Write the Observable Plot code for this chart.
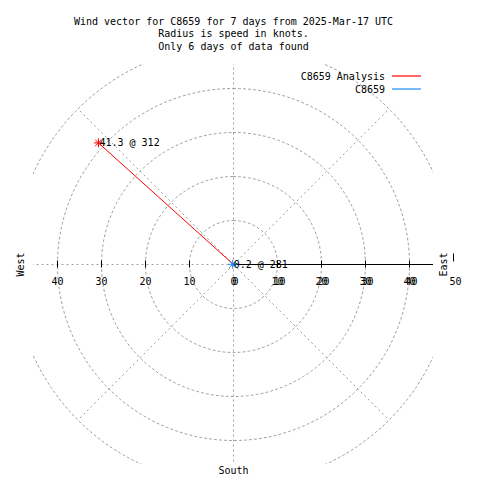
<!DOCTYPE html>
<html><head><meta charset="utf-8">
<script src="https://cdn.jsdelivr.net/npm/d3@7"></script>
<script src="https://cdn.jsdelivr.net/npm/@observablehq/plot@0.6"></script>
<style>body{margin:0;background:#fff}</style>
</head><body><div id="chart"></div>
<script>
const titleLines = ["Wind vector for C8659 for 7 days from 2025-Mar-17 UTC", "Radius is speed in knots.", "Only 6 days of data found"];
const seriesNames = ["C8659 Analysis", "C8659"];
const speeds = [41.3, 0.2];
const directions = [312, 281];
const seriesColors = ["#ff0000", "#1a8cff"];
const ringKnots = [10, 20, 30, 40, 50];
const spokeAngles = [0, 45, 90, 135, 180, 225, 270, 315];
const tickKnots = [-40, -30, -20, -10, 10, 20, 30, 40];
const axisLabelKnots = [-40, -30, -20, -10, 0, 10, 20, 30, 40];
const radialLabelKnots = [0, 10, 20, 30, 40, 50];
const rMax = 45.45;
const FONT = "DejaVu Sans Mono";

const toXY = (r, deg) => ({x: r * Math.sin(deg * Math.PI / 180), y: r * Math.cos(deg * Math.PI / 180)});

const obs = seriesNames.map((name, i) => ({name, speed: speeds[i], dir: directions[i], ...toXY(speeds[i], directions[i])}));
const vectors = obs.flatMap(o => [{name: o.name, x: 0, y: 0}, {name: o.name, x: o.x, y: o.y}]);

const ringPts = ringKnots.flatMap(r => d3.range(0, 361, 2).map(a => ({ring: r, ...toXY(r, a)})));
const spokes = spokeAngles.map(a => ({x1: 0, y1: 0, x2: toXY(50, a).x, y2: toXY(50, a).y}));

const asterisk = {draw(ctx, size) {
  const r = Math.sqrt(size / Math.PI); const d = r * 0.72;
  ctx.moveTo(-r, 0); ctx.lineTo(r, 0);
  ctx.moveTo(0, -r); ctx.lineTo(0, r);
  ctx.moveTo(-d, -d); ctx.lineTo(d, d);
  ctx.moveTo(-d, d); ctx.lineTo(d, -d);
}};
const tickSym = {draw(ctx) { ctx.moveTo(0, -4); ctx.lineTo(0, 3); }};
const tickSymUp = {draw(ctx) { ctx.moveTo(0, -11); ctx.lineTo(0, -3); }};

function legendMark(index, scales, values, dims) {
  const g = d3.create("svg:g").attr("font-family", FONT).attr("font-size", 10);
  const xr = dims.width - dims.marginRight;
  seriesNames.forEach((name, i) => {
    const y = dims.marginTop + 12 + i * 13;
    g.append("text").attr("x", xr - 48).attr("y", y).attr("dy", "0.35em").attr("text-anchor", "end").attr("fill", "black").text(name);
    g.append("line").attr("x1", xr - 41).attr("x2", xr - 12).attr("y1", y).attr("y2", y).attr("stroke", seriesColors[i]).attr("stroke-width", 1.2);
  });
  return g.node();
}

const grid = {stroke: "#a0a0a0", strokeWidth: 1, strokeDasharray: "2,3", clip: true};

const chart = Plot.plot({
  width: 480, height: 480,
  marginLeft: 33, marginRight: 47, marginTop: 64, marginBottom: 16,
  x: {domain: [-rMax, rMax], axis: null},
  y: {domain: [-rMax, rMax], axis: null},
  color: {domain: seriesNames, range: seriesColors},
  style: {fontFamily: FONT, fontSize: "10px", background: "white", color: "black"},
  marks: [
    Plot.line(ringPts, {x: "x", y: "y", z: "ring", ...grid}),
    Plot.link(spokes, {x1: "x1", y1: "y1", x2: "x2", y2: "y2", ...grid}),
    Plot.link([0], {x1: 0, y1: 0, x2: 50, y2: 0, stroke: "black", strokeWidth: 1, clip: true}),
    Plot.dot(tickKnots, {x: d => d, y: 0, symbol: tickSym, stroke: "black", strokeWidth: 1, r: 4}),
    Plot.dot([50], {x: d => d, y: 0, symbol: tickSymUp, stroke: "black", strokeWidth: 1, r: 4}),
    Plot.text(axisLabelKnots, {x: d => d, y: 0, text: d => String(Math.abs(d)), dy: 17, fill: "black"}),
    Plot.text(radialLabelKnots, {x: d => d, y: 0, text: d => String(d), dy: 17, dx: 2, fill: "black"}),
    Plot.line(vectors, {x: "x", y: "y", z: "name", stroke: "name", strokeWidth: 1}),
    Plot.dot(obs, {x: "x", y: "y", stroke: "name", symbol: asterisk, r: 4.5, strokeWidth: 1}),
    Plot.text(obs, {x: "x", y: "y", text: d => `${d.speed} @ ${d.dir}`, textAnchor: "start", dx: 1, fill: "black"}),
    Plot.text(["West"], {frameAnchor: "left", dx: -13, rotate: -90, textAnchor: "middle", text: d => d, fill: "black"}),
    Plot.text(["East"], {frameAnchor: "right", dx: 10, rotate: -90, textAnchor: "middle", text: d => d, fill: "black"}),
    Plot.text(["South"], {frameAnchor: "bottom", dy: 9, text: d => d, fill: "black"}),
    Plot.text([titleLines.join("\n")], {frameAnchor: "top", dy: -49, lineAnchor: "top", lineHeight: 1.28, text: d => d, fill: "black"}),
    legendMark
  ]
});
document.getElementById("chart").append(chart);
</script>
</body></html>
